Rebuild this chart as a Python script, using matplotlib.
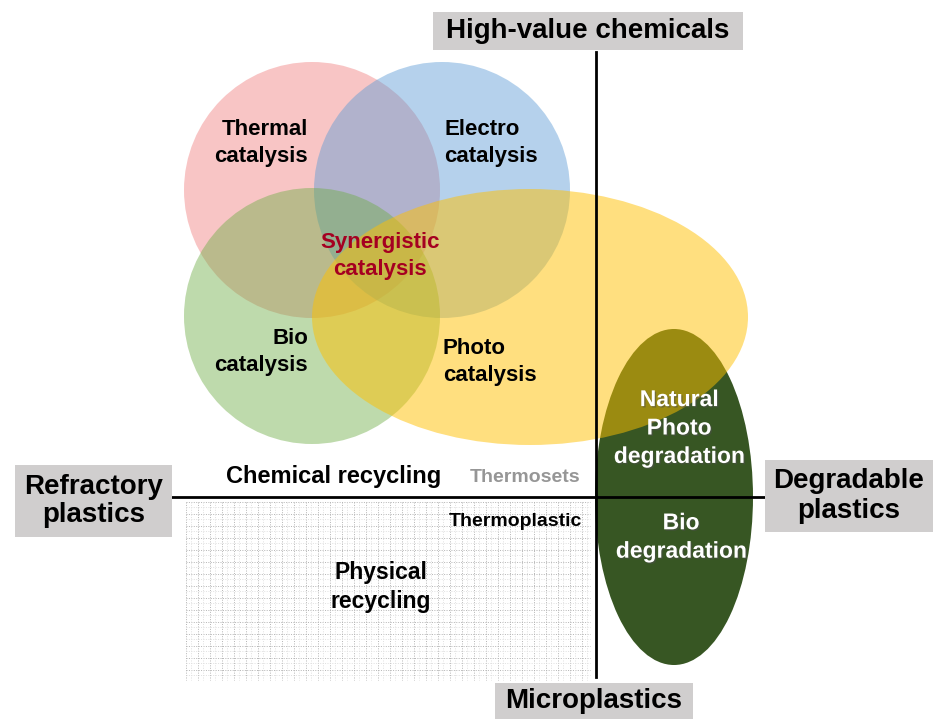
import matplotlib.pyplot as plt
from matplotlib.patches import Ellipse, Rectangle
import matplotlib.patheffects as pe

plt.rcParams['font.family'] = ['Liberation Sans', 'DejaVu Sans']

# Overlapping catalysis bubbles: name, centre, width, height, colour
bubble_names = ['Thermal', 'Electro', 'Bio', 'Photo']
bubble_centres = [(312, 190), (442, 190), (312, 316), (530, 317)]
bubble_sizes = [(256, 256), (256, 256), (256, 256), (436, 256)]
bubble_colors = ['#F08080', '#5B9BD5', '#70AD47', '#FFC000']

# Degradation ellipse
degr_centre = (674, 497)
degr_size = (158, 336)
degr_color = '#375623'

# Quadrant axes
origin = (596, 497)
h_span = (172, 768)
v_span = (52, 677)

# Hatched "physical recycling" area (x0, y0, x1, y1)
grid_box = (186, 502, 590, 680)
grid_step = 12

# Inner labels: text, x, y, ha, colour, size
labels = [
    ('Thermal\ncatalysis', 308, 143, 'right', 'black', 16),
    ('Electro\ncatalysis', 444, 143, 'left', 'black', 16),
    ('Synergistic\ncatalysis', 380, 256, 'center', '#A50021', 16),
    ('Bio\ncatalysis', 308, 352, 'right', 'black', 16),
    ('Photo\ncatalysis', 443, 362, 'left', 'black', 16),
    ('Chemical recycling', 334, 477, 'center', 'black', 17),
    ('Thermosets', 525, 477, 'center', '#969696', 14),
    ('Thermoplastic', 515, 521, 'center', 'black', 14),
    ('Physical\nrecycling', 381, 587, 'center', 'black', 16.5),
]
white_labels = [
    ('Natural\nPhoto\ndegradation', 679, 428),
    ('Bio\ndegradation', 681, 537),
]

# Axis end labels in grey boxes: text, box (x0, y0, x1, y1)
box_labels = [
    ('High-value chemicals', (433, 12, 743, 50)),
    ('Refractory\nplastics', (15, 465, 172, 537)),
    ('Degradable\nplastics', (765, 460, 933, 532)),
    ('Microplastics', (495, 683, 693, 719)),
]

fig = plt.figure(figsize=(9.38, 7.19), dpi=100)
ax = fig.add_axes([0, 0, 1, 1])
ax.set_xlim(0, 938)
ax.set_ylim(719, 0)
ax.axis('off')

# dotted grid: main lines plus a fainter offset set
x0, y0, x1, y1 = grid_box
for off, col in [(0, '#b4b4b4'), (5, '#e0e0e0')]:
    x = x0 + off
    while x <= x1:
        ax.plot([x, x], [y0, y1], color=col, lw=0.7, ls=(0, (1, 1.5)), zorder=1)
        x += grid_step
    y = y0 + off
    while y <= y1:
        ax.plot([x0, x1], [y, y], color=col, lw=0.7, ls=(0, (1, 1.5)), zorder=1)
        y += grid_step

# bubbles (yellow last so it sits on top of the dark green one)
for i in range(3):
    ax.add_patch(Ellipse(bubble_centres[i], *bubble_sizes[i], color=bubble_colors[i],
                         alpha=0.45, lw=0, zorder=2))
ax.add_patch(Ellipse(degr_centre, *degr_size, color=degr_color, lw=0, zorder=3))
ax.add_patch(Ellipse(bubble_centres[3], *bubble_sizes[3], color=bubble_colors[3],
                     alpha=0.5, lw=0, zorder=4))

# quadrant lines
ax.plot(h_span, [origin[1], origin[1]], color='black', lw=2, zorder=5)
ax.plot([origin[0], origin[0]], v_span, color='black', lw=2, zorder=5)

for text, tx, ty, ha, col, size in labels:
    ax.text(tx, ty, text, ha=ha, va='center', color=col, fontsize=size,
            fontweight='bold', linespacing=1.35, multialignment=ha, zorder=6)

for text, tx, ty in white_labels:
    ax.text(tx, ty, text, ha='center', va='center', color='white', fontsize=16.5,
            fontweight='bold', linespacing=1.3, zorder=6,
            path_effects=[pe.withSimplePatchShadow(offset=(1, -1), alpha=0.5)])

for text, (bx0, by0, bx1, by1) in box_labels:
    ax.add_patch(Rectangle((bx0, by0), bx1 - bx0, by1 - by0, color='#d0cece',
                           lw=0, zorder=5))
    ax.text((bx0 + bx1) / 2, (by0 + by1) / 2, text, ha='center', va='center',
            fontsize=20, fontweight='bold', linespacing=1.15, zorder=6)

fig.savefig('out.png', dpi=100)
